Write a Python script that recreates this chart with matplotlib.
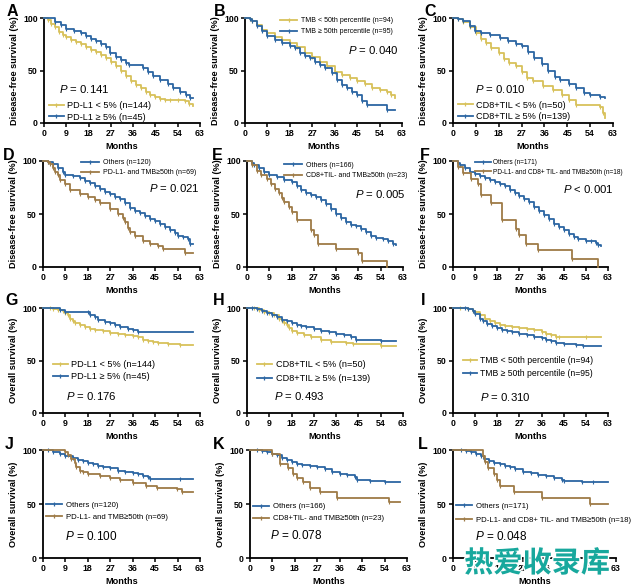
import matplotlib
matplotlib.use('Agg')
import matplotlib.pyplot as plt
from matplotlib.lines import Line2D
import matplotlib.patheffects as pe

plt.rcParams['font.family'] = ['Liberation Sans', 'DejaVu Sans']
plt.rcParams['mathtext.fontset'] = 'custom'
plt.rcParams['mathtext.it'] = 'Liberation Sans:italic'
plt.rcParams['mathtext.rm'] = 'Liberation Sans'

YEL = '#D8C15A'
BLU = '#2C66A3'
BRN = '#9E7B47'

# ---------------- data (months, survival %) ----------------
A_low_t = [0, 1.5, 3, 4.5, 6, 7.5, 9, 11, 13, 15, 17, 19, 21, 23, 25, 27, 29, 31, 33, 35, 37, 39, 41, 43, 45, 47, 49, 51, 54, 57, 58.5, 60]
A_low_s = [100, 98, 94, 91, 87, 84, 82, 79, 77, 75, 72, 70, 68, 65, 62, 58, 54, 50, 45, 40, 36, 33, 30, 27, 25, 23, 22, 22, 22, 21, 18, 16]
A_high_t = [0, 4.5, 7, 9, 12, 15, 17, 19, 21, 23, 25, 26.5, 29, 31, 33, 34.5, 40, 42, 44, 47, 50, 52, 55, 57.5, 59, 60]
A_high_s = [100, 96, 93, 90, 88, 86, 83, 80, 78, 75, 72, 67, 63, 60, 57, 55, 52, 49, 45, 41, 37, 33, 30, 27, 24, 24]

B_low_t = [0, 2, 3, 5, 7, 9, 12, 15, 18, 21, 24, 27, 30, 33, 36, 39, 42, 45, 48, 51, 54, 57, 58.5, 60]
B_low_s = [100, 99, 97, 93, 89, 86, 82, 79, 76, 72, 67, 63, 58, 54, 49, 46, 43, 40, 37, 33, 31, 30, 27, 24]
B_high_t = [0, 2, 3, 5, 7, 9, 12, 15, 18, 20, 22, 24, 26, 28, 30, 32, 35, 37, 39, 41, 43, 45, 47, 49, 57, 60]
B_high_s = [100, 99, 97, 92, 88, 83, 79, 76, 73, 71, 67, 64, 62, 58, 55, 52, 48, 41, 36, 33, 30, 27, 21, 17, 12, 12]

C_low_t = [0, 2, 4, 6.5, 9, 11, 13, 15, 18, 20, 22, 25, 27, 29, 31.5, 35.5, 39.5, 43, 45.5, 48.5, 58, 59, 60]
C_low_s = [100, 99, 96, 91, 86, 80, 76, 71, 67, 61, 57, 54, 49, 43, 40, 35, 31, 27, 22, 17, 15, 10, 5]
C_high_t = [0, 2, 4, 6.5, 8.5, 11, 14.5, 18.5, 21.5, 25, 27, 29.5, 32, 35, 37.5, 40, 42, 45.5, 48.5, 51.5, 54, 58, 60]
C_high_s = [100, 99, 97, 92, 88, 86, 84, 81, 78, 75, 73, 68, 62, 56, 50, 44, 41, 37, 33, 29, 27, 25, 24]

D_oth_t = [0, 2, 4, 6, 8, 9, 12, 15, 17, 19, 21, 23, 25, 27, 29, 31, 33, 35, 37, 39, 41, 43, 45, 47, 49, 51, 53, 54, 56, 58, 59, 60]
D_oth_s = [100, 99, 97, 93, 90, 87, 86, 84, 81, 79, 76, 74, 71, 69, 66, 64, 60, 56, 53, 51, 48, 45, 43, 41, 38, 35, 32, 29, 28, 26, 22, 22]
D_neg_t = [0, 2, 3, 4, 5, 6, 7, 9, 11, 15, 18, 21, 23, 27, 30, 32, 33, 34, 35, 37, 40, 43, 46, 48, 57, 60]
D_neg_s = [100, 99, 97, 93, 90, 87, 82, 78, 73, 69, 66, 63, 60, 55, 50, 46, 42, 37, 33, 29, 25, 22, 20, 17, 13, 13]

E_oth_t = [0, 2, 3, 5, 7, 9, 12, 15, 18, 20, 22, 24, 26, 28, 30, 32, 34, 36, 38, 40, 42, 44, 46, 48, 50, 52, 55, 57, 59, 60]
E_oth_s = [100, 98, 96, 93, 90, 87, 85, 82, 80, 76, 73, 70, 68, 66, 63, 59, 55, 50, 46, 42, 40, 39, 36, 33, 29, 27, 26, 25, 22, 21]
E_neg_t = [0, 2, 4, 5.5, 8, 9.5, 11.5, 13, 14, 15, 17, 18, 20, 26, 27, 28.5, 36, 45, 46.5, 56.5]
E_neg_s = [100, 96, 91, 87, 83, 78, 74, 70, 65, 61, 57, 52, 44, 35, 30, 22, 17, 13, 6, 0]

F_oth_t = [0, 2, 3, 5, 7, 9, 11, 13, 15, 17, 19, 21, 23, 25, 27, 29, 31, 33, 35, 37, 39, 41, 43, 45, 47, 49, 51, 54, 56, 58, 59, 60]
F_oth_s = [100, 98, 96, 93, 90, 88, 86, 84, 82, 80, 78, 76, 73, 70, 67, 64, 61, 57, 53, 49, 45, 41, 38, 35, 31, 28, 26, 25, 25, 23, 21, 20]
F_neg_t = [0, 2, 4, 7.5, 10, 11.5, 15.5, 20, 25.5, 27, 29.5, 34.5, 48.5, 59]
F_neg_s = [100, 94, 89, 83, 78, 68, 60, 44, 36, 30, 22, 16, 8, 0]

G_low_t = [0, 3, 4, 6, 8, 9, 10, 11, 12, 13, 15, 17, 19, 21, 24, 27, 30, 33, 36, 38, 40, 42, 44, 46, 50, 55, 60]
G_low_s = [100, 100, 99, 98, 97, 95, 93, 90, 88, 86, 84, 82, 80, 79, 78, 76, 75, 74, 73, 72, 70, 69, 68, 67, 66, 65, 65]
G_high_t = [0, 7, 9, 18, 19, 21, 22, 25, 27, 29, 31, 34, 36, 38, 60]
G_high_s = [100, 98, 96, 96, 93, 91, 89, 87, 86, 84, 82, 80, 79, 77, 77]

H_low_t = [0, 3, 5, 7, 9, 11, 13, 14, 15, 16, 17, 18, 20, 23, 26, 30, 34, 40, 43, 54, 60]
H_low_s = [100, 100, 98, 96, 95, 93, 90, 88, 86, 84, 81, 78, 76, 74, 72, 70, 68, 67, 66, 64, 64]
H_high_t = [0, 2, 4, 6, 8, 10, 12, 14, 16, 18, 20, 22, 24, 27, 30, 33, 36, 39, 42, 44, 54, 60]
H_high_s = [100, 100, 99, 97, 95, 93, 91, 89, 88, 86, 84, 83, 82, 80, 78, 77, 75, 74, 72, 70, 69, 69]

I_low_t = [0, 3, 6, 8, 9, 11, 13, 15, 17, 19, 21, 24, 27, 30, 33, 36, 38, 40, 42, 43, 54, 60]
I_low_s = [100, 100, 99, 97, 96, 93, 90, 88, 86, 84, 83, 82, 81, 80, 79, 77, 75, 74, 72, 72, 72, 72]
I_high_t = [0, 5, 6, 8, 9, 11, 12, 14, 16, 18, 20, 22, 24, 27, 30, 33, 36, 38, 40, 42, 45, 50, 53, 60]
I_high_s = [100, 100, 99, 97, 94, 90, 88, 85, 83, 81, 79, 78, 77, 75, 74, 72, 71, 70, 69, 67, 66, 65, 64, 64]

J_oth_t = [0, 2, 4, 7, 9, 12, 14, 16, 18, 20, 22, 24, 27, 30, 33, 36, 38, 40, 42, 43, 55, 60]
J_oth_s = [100, 100, 98, 96, 94, 93, 91, 90, 88, 87, 85, 84, 83, 81, 80, 79, 78, 76, 75, 73, 73, 73]
J_neg_t = [0, 8.7, 10, 11.4, 12.7, 13.4, 14.7, 16, 18, 22.8, 26.8, 30.8, 36, 41.5, 45.6, 53.6, 55.6, 60]
J_neg_s = [100, 98, 95, 92, 88, 84, 81, 80, 78, 76, 74, 72, 69, 67, 65, 64, 61, 61]

K_oth_t = [0, 3, 5, 7, 9, 11, 13, 15, 17, 19, 21, 24, 27, 30, 33, 36, 39, 42, 43, 48, 54, 60]
K_oth_s = [100, 100, 99, 98, 96, 95, 93, 91, 89, 87, 86, 85, 84, 82, 80, 78, 77, 75, 72, 71, 70, 70]
K_neg_t = [0, 8.7, 12, 15.4, 17.4, 18.8, 21.4, 24, 28, 35, 55.6, 60]
K_neg_s = [100, 96, 87, 83, 78, 74, 70, 65, 61, 56, 52, 52]

L_oth_t = [0, 3, 5, 7, 9, 11, 12, 14, 16, 18, 20, 22, 24, 27, 30, 33, 36, 39, 42, 43, 50, 54, 60]
L_oth_s = [100, 100, 99, 98, 96, 94, 92, 90, 88, 87, 85, 84, 82, 80, 79, 77, 76, 74, 72, 71, 70, 70, 70]
L_neg_t = [0, 11.5, 12.5, 13.5, 16, 17, 18, 23.5, 34.5, 53, 60]
L_neg_s = [100, 94, 89, 83, 78, 72, 67, 61, 56, 50, 50]

x_ticks = [0, 9, 18, 27, 36, 45, 54, 63]
y_ticks = [0, 50, 100]
DFS = 'Disease-free survival (%)'
OS = 'Overall survival (%)'

# ---------------- layout ----------------
W, H = 640, 586
fig = plt.figure(figsize=(W / 100, H / 100), dpi=100)
fig.patch.set_facecolor('white')


def rect(x0, y0, x1, y1):
    return [x0 / W, 1 - y1 / H, (x1 - x0) / W, (y1 - y0) / H]


panels = [
    dict(letter='A', lp=(7, 4), box=(44, 18, 200, 123), ylab=DFS,
         curves=[(A_low_t, A_low_s, YEL, 'PD-L1 < 5% (n=144)'),
                 (A_high_t, A_high_s, BLU, 'PD-L1 ≥ 5% (n=45)')],
         leg=(2, 11, 6.6, 0.25, 1.6, 0.4), p=('= 0.141', 6, 32, 8.2)),
    dict(letter='B', lp=(214, 4), box=(245, 18, 402, 123), ylab=DFS,
         curves=[(B_low_t, B_low_s, YEL, 'TMB < 50th percentile (n=94)'),
                 (B_high_t, B_high_s, BLU, 'TMB ≥ 50th percentile (n=95)')],
         leg=(14, 92, 5.0, 0.55, 2.5, 0.6), p=('= 0.040', 41.5, 70, 8.2)),
    dict(letter='C', lp=(424, 4), box=(453, 18, 613, 123), ylab=DFS,
         curves=[(C_low_t, C_low_s, YEL, 'CD8+TIL < 5% (n=50)'),
                 (C_high_t, C_high_s, BLU, 'CD8+TIL ≥ 5% (n=139)')],
         leg=(2, 11.5, 6.6, 0.3, 1.6, 0.4), p=('= 0.010', 8.6, 32, 8.2)),
    dict(letter='D', lp=(3, 148), box=(43, 161, 200, 267), ylab=DFS,
         curves=[(D_oth_t, D_oth_s, BLU, 'Others (n=120)'),
                 (D_neg_t, D_neg_s, BRN, 'PD-L1- and TMB≥50th (n=69)')],
         leg=(15.4, 93.5, 5.0, 0.45, 2.5, 0.6), p=('= 0.021', 42.6, 75, 8.2)),
    dict(letter='E', lp=(212, 148), box=(247, 161, 403, 267), ylab=DFS,
         curves=[(E_oth_t, E_oth_s, BLU, 'Others (n=166)'),
                 (E_neg_t, E_neg_s, BRN, 'CD8+TIL- and TMB≥50th (n=23)')],
         leg=(15, 91, 5.0, 0.55, 2.5, 0.6), p=('= 0.005', 43.7, 69, 8.2)),
    dict(letter='F', lp=(420, 148), box=(453, 161, 608, 267), ylab=DFS,
         curves=[(F_oth_t, F_oth_s, BLU, 'Others (n=171)'),
                 (F_neg_t, F_neg_s, BRN, 'PD-L1- and CD8+ TIL- and TMB≥50th (n=18)')],
         leg=(8.8, 94, 4.7, 0.35, 2.5, 0.3), p=('< 0.001', 44.7, 74, 8.2)),
    dict(letter='G', lp=(5, 293), box=(43, 308, 200, 413), ylab=OS,
         curves=[(G_low_t, G_low_s, YEL, 'PD-L1 < 5% (n=144)'),
                 (G_high_t, G_high_s, BLU, 'PD-L1 ≥ 5% (n=45)')],
         leg=(4, 40.5, 6.6, 0.3, 1.6, 0.4), p=('= 0.176', 9.4, 16, 8.2)),
    dict(letter='H', lp=(213, 293), box=(247, 308, 403, 413), ylab=OS,
         curves=[(H_low_t, H_low_s, YEL, 'CD8+TIL < 5% (n=50)'),
                 (H_high_t, H_high_s, BLU, 'CD8+TIL ≥ 5% (n=139)')],
         leg=(4, 39.5, 6.6, 0.55, 1.6, 0.5), p=('= 0.493', 10.8, 16, 8.2)),
    dict(letter='I', lp=(421, 293), box=(453, 308, 608, 413), ylab=OS,
         curves=[(I_low_t, I_low_s, YEL, 'TMB < 50th percentile (n=94)'),
                 (I_high_t, I_high_s, BLU, 'TMB ≥ 50th percentile (n=95)')],
         leg=(4, 43.5, 6.2, 0.45, 1.6, 0.45), p=('= 0.310', 10.8, 15, 8.2)),
    dict(letter='J', lp=(5, 437), box=(43, 450, 200, 558), ylab=OS,
         curves=[(J_oth_t, J_oth_s, BLU, 'Others (n=120)'),
                 (J_neg_t, J_neg_s, BRN, 'PD-L1- and TMB≥50th (n=69)')],
         leg=(1.3, 43.5, 5.6, 0.6, 2.0, 0.5), p=('= 0.100', 8.7, 19.5, 8.5)),
    dict(letter='K', lp=(213, 437), box=(250, 450, 407, 558), ylab=OS,
         curves=[(K_oth_t, K_oth_s, BLU, 'Others (n=166)'),
                 (K_neg_t, K_neg_s, BRN, 'CD8+TIL- and TMB≥50th (n=23)')],
         leg=(1.3, 42, 5.6, 0.6, 2.0, 0.5), p=('= 0.078', 8, 21, 8.5)),
    dict(letter='L', lp=(418, 437), box=(453, 450, 616, 558), ylab=OS,
         curves=[(L_oth_t, L_oth_s, BLU, 'Others (n=171)'),
                 (L_neg_t, L_neg_s, BRN, 'PD-L1- and CD8+ TIL- and TMB≥50th (n=18)')],
         leg=(1.3, 41.5, 5.6, 0.8, 2.0, 0.5), p=('= 0.048', 8.4, 19.5, 8.5)),
]

for pn in panels:
    ax = fig.add_axes(rect(*pn['box']))
    handles, labels = [], []
    for t, s, c, lab in pn['curves']:
        ax.step(t, s, where='post', color=c, lw=1.3, clip_on=False, zorder=3)
        ax.plot(t[1:-1], s[1:-1], ls='none', marker='|', ms=2.2, mew=0.8, color=c, clip_on=False, zorder=3)
        handles.append(Line2D([], [], color=c, lw=1.3, marker='|', ms=2.5, mew=0.9))
        labels.append(lab)
    ax.set_xlim(0, 63)
    ax.set_ylim(0, 100)
    ax.set_xticks(x_ticks)
    ax.set_yticks(y_ticks)
    for sp in ('top', 'right'):
        ax.spines[sp].set_visible(False)
    for sp in ('left', 'bottom'):
        ax.spines[sp].set_linewidth(1.3)
    ax.tick_params(axis='both', length=3, width=1.1, pad=1.5, labelsize=6.3)
    for lbl in ax.get_xticklabels() + ax.get_yticklabels():
        lbl.set_fontweight('bold')
    ax.set_xlabel('Months', fontsize=6.6, fontweight='bold', labelpad=2.5)
    ax.set_ylabel(pn['ylab'], fontsize=6.6, fontweight='bold', labelpad=3)
    lx, ly, fs, spc, hl, tp = pn['leg']
    ax.legend(handles, labels, loc='center left', bbox_to_anchor=(lx, ly),
              bbox_transform=ax.transData, frameon=False, fontsize=fs,
              labelspacing=spc, handlelength=hl, handletextpad=tp,
              borderpad=0, borderaxespad=0, numpoints=1)
    ptxt, px, py, pfs = pn['p']
    ax.text(px, py, r'$\mathit{P}$ ' + ptxt, fontsize=pfs, ha='left', va='center')
    fig.text(pn['lp'][0] / W, 1 - pn['lp'][1] / H, pn['letter'],
             fontsize=11.5, fontweight='bold', ha='left', va='top')

# watermark of the source image
fig.text(537 / W, 1 - 563 / H, '热爱收录库', fontsize=21, fontweight='bold',
         color='#18A89D', ha='center', va='center', family=['Noto Sans CJK SC', 'DejaVu Sans'],
         path_effects=[pe.withStroke(linewidth=2, foreground='white')], zorder=10)

fig.savefig('out.png', dpi=100, facecolor='white')
